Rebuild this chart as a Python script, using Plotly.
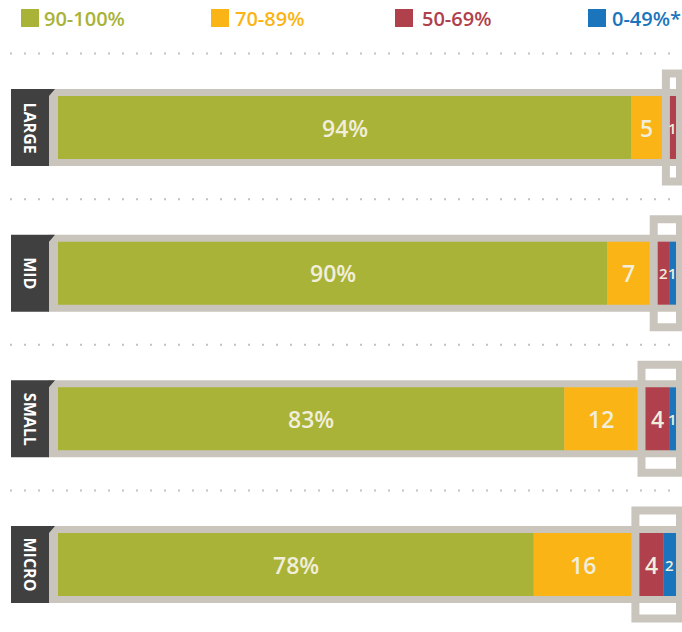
import plotly.graph_objects as go

# ---------------- data ----------------
categories = ["LARGE", "MID", "SMALL", "MICRO"]
bands = ["90-100%", "70-89%", "50-69%", "0-49%*"]
v_90_100 = [94, 90, 83, 78]
v_70_89 = [5, 7, 12, 16]
v_50_69 = [1, 2, 4, 4]
v_0_49 = [0, 1, 1, 2]

# ---------------- style ----------------
colors = ["#a9b337", "#fbb415", "#b0404b", "#1b75bc"]
FRAME = "#c9c5bd"
TAB = "#404040"
LABEL = "#f1eedb"
FONT = "Open Sans"

W, H = 682, 632
TOP = 40            # top margin (legend area)
X0PX = 58           # pixel where 0 % sits
S = 6.1             # pixels per percentage point
P = 145.67          # pixels per row
ROW0 = 127.5        # pixel centre of first row


def ux(px):
    return px / S


def uy(px):
    return px / P


gap = ux(8)
yidx = list(range(len(categories)))

series = [v_90_100, v_70_89, v_50_69, v_0_49]
bases = []
for i in yidx:
    g, y, r, b = (s[i] for s in series)
    bases.append([0, g, g + y + gap, g + y + gap + r])

fig = go.Figure()
for k, (name, vals) in enumerate(zip(bands, series)):
    fig.add_trace(go.Bar(
        y=yidx, x=vals, base=[bases[i][k] for i in yidx],
        orientation="h", width=uy(63), name=name,
        marker=dict(color=colors[k], line=dict(width=0)),
        hovertemplate="%{x}<extra>" + name + "</extra>",
        showlegend=False,
    ))

shapes = []
annotations = []
for i in yidx:
    g, y, r, b = (s[i] for s in series)
    total = g + y + gap + r + b
    # dotted separator
    shapes.append(dict(type="line", xref="paper", yref="y", x0=10 / W, x1=1,
                       y0=i - uy(74), y1=i - uy(74),
                       line=dict(color="#c2c2c2", width=2, dash="2px,12px"),
                       layer="below"))
    # highlight box round the small segments
    shapes.append(dict(type="rect", xref="x", yref="y",
                       x0=g + y + gap / 2, x1=total + gap / 2,
                       y0=i - uy(54), y1=i + uy(54),
                       line=dict(color=FRAME, width=8), fillcolor="white",
                       layer="below"))
    # frame band round the bar
    shapes.append(dict(type="rect", xref="x", yref="y",
                       x0=ux(48 - X0PX), x1=total + gap,
                       y0=i - uy(38.5), y1=i + uy(38.5),
                       line=dict(width=0), fillcolor=FRAME, layer="below"))
    # dark tab
    xa, xb, xc = ux(11 - X0PX), ux(49 - X0PX), ux(55 - X0PX)
    yt, yb, yc = i - uy(38.5), i + uy(38.5), i - uy(38.5) + uy(7)
    shapes.append(dict(type="path", xref="x", yref="y",
                       path=f"M {xa},{yt} L {xc},{yt} L {xb},{yc} L {xb},{yb} L {xa},{yb} Z",
                       fillcolor=TAB, line=dict(width=0), layer="below"))
    annotations.append(dict(x=ux(30 - X0PX), y=i, xref="x", yref="y",
                            text=categories[i], textangle=90, showarrow=False,
                            font=dict(family=FONT, size=16, color="white", weight=700)))
    # value labels
    for k in range(4):
        v = series[k][i]
        if v <= 0:
            continue
        txt = f"{v}%" if k == 0 else f"{v}"
        size = 23 if v > 2 else 15
        annotations.append(dict(x=bases[i][k] + v / 2, y=i, xref="x", yref="y",
                                text=txt, showarrow=False,
                                font=dict(family=FONT, size=size, color=LABEL, weight=600)))

# legend (drawn manually)
leg_sq = [21, 211, 395, 588]
leg_tx = [42, 233, 420, 610]


def py_paper(px):
    return (H - px) / (H - TOP)


for k in range(4):
    shapes.append(dict(type="rect", xref="paper", yref="paper",
                       x0=leg_sq[k] / W, x1=(leg_sq[k] + 18) / W,
                       y0=py_paper(27), y1=py_paper(9),
                       fillcolor=colors[k], line=dict(width=0)))
    annotations.append(dict(x=leg_tx[k] / W, y=py_paper(18), xref="paper", yref="paper",
                            xanchor="left", yanchor="middle", text=bands[k], showarrow=False,
                            font=dict(family=FONT, size=20, color=colors[k], weight=600)))

fig.update_layout(
    width=W, height=H,
    margin=dict(l=0, r=0, t=TOP, b=0),
    paper_bgcolor="white", plot_bgcolor="white",
    barmode="overlay",
    xaxis=dict(visible=False, range=[ux(-X0PX), ux(W - X0PX)], fixedrange=True),
    yaxis=dict(visible=False, range=[3 + uy(H - (ROW0 + 3 * P)), -uy(ROW0 - TOP)], fixedrange=True),
    shapes=shapes, annotations=annotations,
    font=dict(family=FONT),
)

fig.write_html("out.html", config={"displayModeBar": False},
               post_script="document.body.style.margin='0';document.body.style.overflow='hidden';")
